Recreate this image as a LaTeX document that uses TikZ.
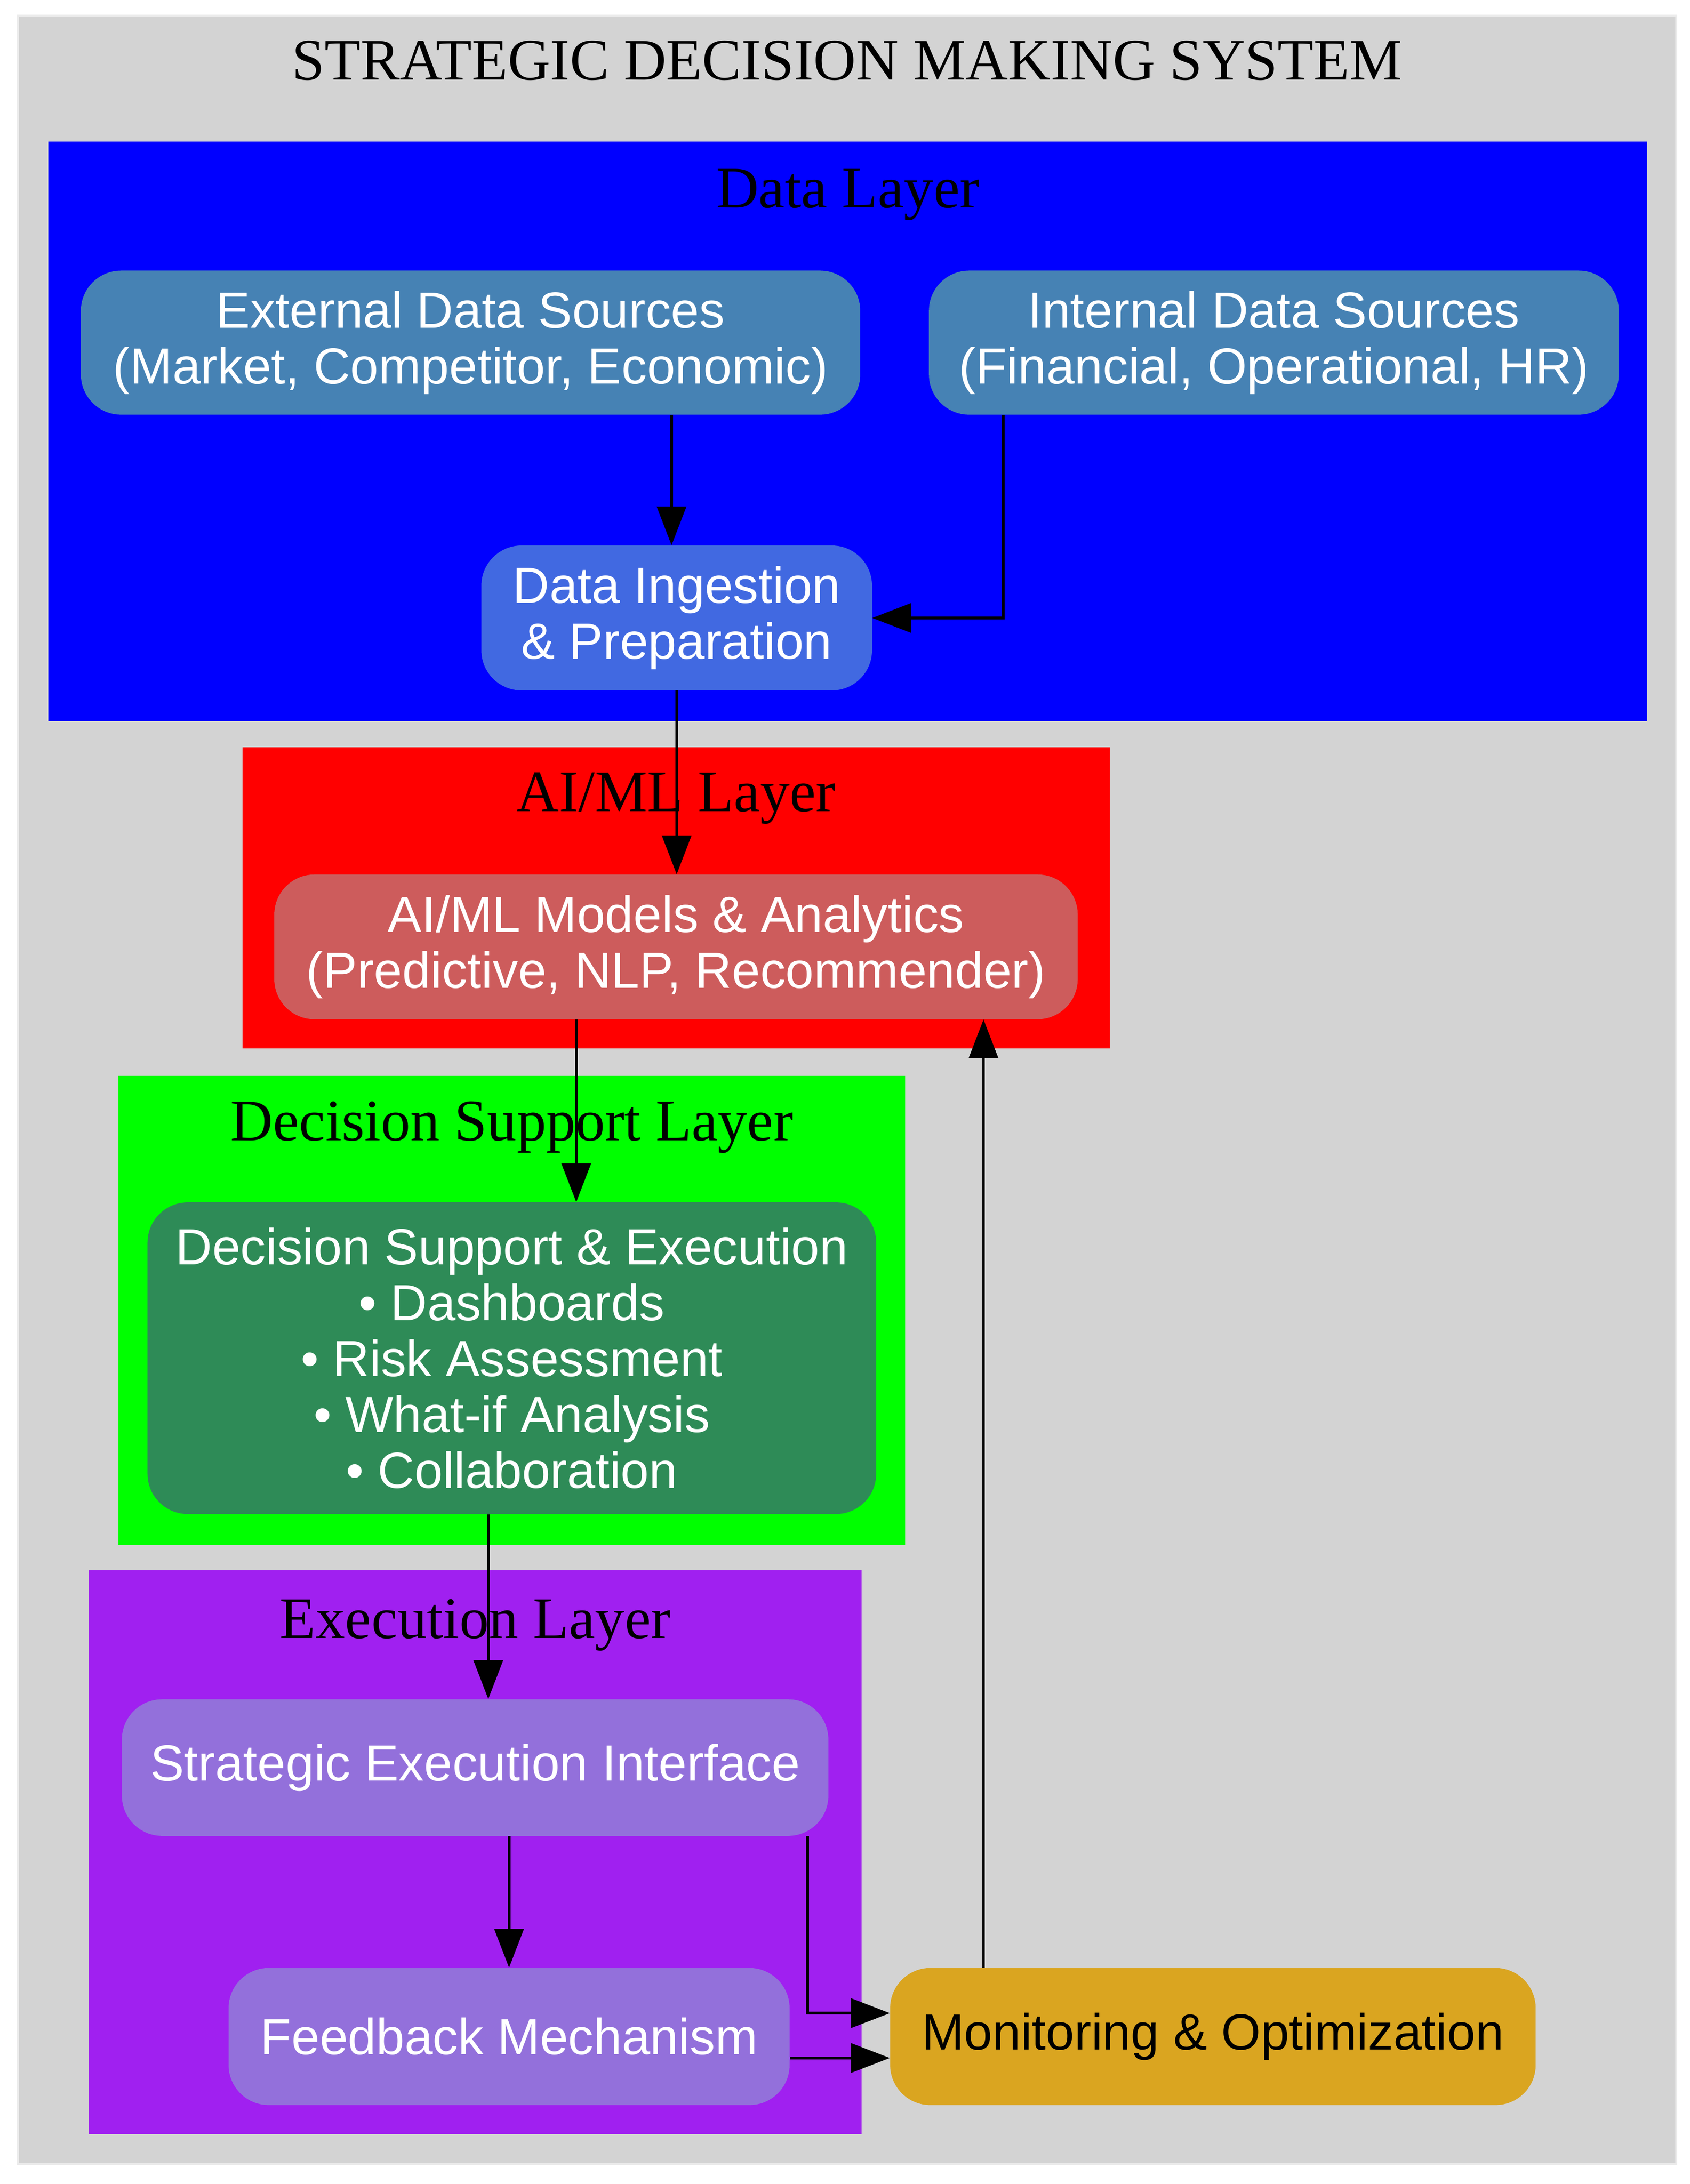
\documentclass[tikz,border=0pt]{standalone}
\usepackage{fontspec}
\setmainfont{Liberation Serif}
\newfontfamily\boxfont{Liberation Sans}
\usetikzlibrary{arrows.meta}

\definecolor{bggray}{HTML}{D3D3D3}
\definecolor{layerblue}{HTML}{0000FF}
\definecolor{layerred}{HTML}{FF0000}
\definecolor{layergreen}{HTML}{00FF00}
\definecolor{layerpurple}{HTML}{A020F0}
\definecolor{steelblue}{HTML}{4682B4}
\definecolor{royalblue}{HTML}{4169E1}
\definecolor{indianred}{HTML}{CD5C5C}
\definecolor{seagreen}{HTML}{2E8B57}
\definecolor{mediumpurple}{HTML}{9370DB}
\definecolor{goldenrod}{HTML}{DAA520}

\begin{document}
\begin{tikzpicture}[x=1pt,y=-1pt,
	box/.style={rounded corners=29pt, inner sep=0pt, text=white, align=center,
		font=\boxfont\fontsize{36.7}{40.4}\selectfont},
	lbl/.style={anchor=base, inner sep=0pt, font=\fontsize{42.5}{46}\selectfont},
	arr/.style={-{Triangle[length=28pt,width=21pt]}, line width=2pt}]
	\useasboundingbox (0,0) rectangle (1220,1577);
	% background and layers
	\filldraw[fill=bggray, draw=bggray!45!white, line width=1.5pt] (13,11.5) rectangle (1210,1562.5);
	\fill[layerblue] (35,102.2) rectangle (1189,520.8);
	\fill[layerred] (175,539.6) rectangle (801,757);
	\fill[layergreen] (85.6,776.7) rectangle (653.5,1115.8);
	\fill[layerpurple] (64,1134) rectangle (622,1541);
	\node[lbl] (title) at (611.5,57.6) {STRATEGIC DECISION MAKING SYSTEM};
	\node[lbl] (datalbl) at (612,150) {Data Layer};
	\node[lbl] (ailbl) at (488,586) {AI/ML Layer};
	\node[lbl] (dslbl) at (369.5,823.5) {Decision Support Layer};
	\node[lbl] (execlbl) at (343,1183) {Execution Layer};
	% nodes
	\node[box, fill=steelblue, minimum width=562.6pt, minimum height=104pt] (ext) at (339.7,247.4)
		{External Data Sources\\(Market, Competitor, Economic)};
	\node[box, fill=steelblue, minimum width=498pt, minimum height=104pt] (int) at (919.6,247.4)
		{Internal Data Sources\\(Financial, Operational, HR)};
	\node[box, fill=royalblue, minimum width=282pt, minimum height=104.6pt] (ingest) at (488.5,446.2)
		{Data Ingestion\\\& Preparation};
	\node[box, fill=indianred, minimum width=580pt, minimum height=104.5pt] (ai) at (488,683.7)
		{AI/ML Models \& Analytics\\(Predictive, NLP, Recommender)};
	\node[box, fill=seagreen, minimum width=526pt, minimum height=225pt] (ds) at (369.5,980.7)
		{Decision Support \& Execution\\• Dashboards\\• Risk Assessment\\• What-if Analysis\\• Collaboration};
	\node[box, fill=mediumpurple, minimum width=510pt, minimum height=98.6pt] (sei) at (343,1276.3)
		{Strategic Execution Interface};
	\node[box, fill=mediumpurple, minimum width=405pt, minimum height=99pt] (fb) at (367.5,1470.5)
		{Feedback Mechanism};
	\node[box, fill=goldenrod, text=black, minimum width=466pt, minimum height=99pt] (mon) at (875.6,1470.5)
		{Monitoring \& Optimization};
	% edges
	\draw[arr] ([xshift=-3.7pt]ingest.north |- ext.south) -- ([xshift=-3.7pt]ingest.north);
	\draw[arr] ([xshift=-195.3pt]int.south) |- (ingest.east);
	\draw[arr] (ingest.south) -- (ingest.south |- ai.north);
	\draw[arr] ([xshift=46.5pt]ds.north |- ai.south) -- ([xshift=46.5pt]ds.north);
	\draw[arr] ([xshift=9.5pt]sei.north |- ds.south) -- ([xshift=9.5pt]sei.north);
	\draw[arr] (fb.north |- sei.south) -- (fb.north);
	\draw[arr] ([xshift=240pt]sei.south) |- ([yshift=16.9pt]mon.west);
	\draw[arr] ([yshift=-15.5pt]fb.east) -- ([yshift=-15.5pt]mon.west);
	\draw[arr] ([xshift=-165.6pt]mon.north) -- ([xshift=-165.6pt]mon.north |- ai.south);
\end{tikzpicture}
\end{document}
